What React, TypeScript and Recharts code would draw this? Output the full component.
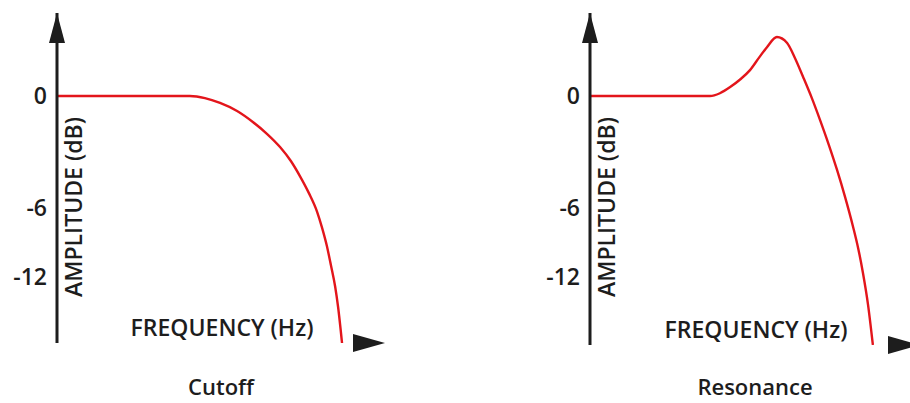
import React from "react";
import { Line, LineChart, XAxis, YAxis } from "recharts";

// values (x: 0-100 along the axis, y: apparent dB units)
const cutoffFreq = [0, 20, 40.5, 45.1, 49.7, 54.9, 59.8, 64, 68, 71.3, 74.1, 76.8, 79.3, 80.8, 82.3, 83.5, 84.8, 85.7, 86.9];
const cutoffAmp = [0, 0, 0, -0.11, -0.37, -0.8, -1.4, -2.02, -2.73, -3.48, -4.3, -5.2, -6.2, -7.05, -8.05, -9.05, -10.2, -11.3, -13.23];

const resonanceFreq = [0, 20, 31.3, 37.5, 40.6, 43.8, 47, 50, 53, 55.3, 58.4, 61.6, 64, 66.6, 69.3, 71.9, 74.6, 77.2, 79.7, 82.2, 83.8, 85.3, 86.9, 88.4];
const resonanceAmp = [0, 0, 0, 0, 0.15, 0.48, 0.9, 1.39, 2.1, 2.62, 3.16, 2.84, 2.05, 1.02, -0.1, -1.29, -2.6, -3.96, -5.4, -7.0, -8.15, -9.48, -11.2, -13.34];

const yTickValues = [0, -6, -9.7];
const yTickLabels = ["0", "-6", "-12"];

const yAxisTitle = "AMPLITUDE (dB)";
const xAxisTitle = "FREQUENCY (Hz)";
const panelTitles = ["Cutoff", "Resonance"];

const toRows = (f: number[], a: number[]) => f.map((v, i) => ({ f: v, a: a[i] }));

const FONT = "'Open Sans', sans-serif";
const INK = "#1d1d1d";
const RED = "#e3151b";

type PanelProps = {
	data: { f: number; a: number }[];
	width: number;
	plotLeft: number;
	plotRight: number;
	plotTop: number;
	plotBottom: number;
	yDomain: [number, number];
};

const Panel: React.FC<PanelProps> = ({ data, width, plotLeft, plotRight, plotTop, plotBottom, yDomain }) => (
	<LineChart
		width={width}
		height={403}
		data={data}
		margin={{ top: plotTop, right: width - plotRight, left: 0, bottom: 403 - plotBottom }}
	>
		<XAxis
			dataKey="f"
			type="number"
			domain={[0, 100]}
			tick={false}
			tickLine={false}
			height={0}
			axisLine={{ stroke: INK, strokeWidth: 3 }}
		/>
		<YAxis
			type="number"
			domain={yDomain}
			ticks={yTickValues}
			interval={0}
			width={plotLeft}
			tickLine={false}
			tickSize={0}
			tickMargin={10}
			tickFormatter={(v: number) => yTickLabels[yTickValues.indexOf(v)] ?? ""}
			tick={{ fill: INK, fontSize: 23, fontWeight: 600, fontFamily: FONT }}
			axisLine={{ stroke: INK, strokeWidth: 3 }}
			allowDataOverflow
		/>
		<Line
			type="monotone"
			dataKey="a"
			stroke={RED}
			strokeWidth={2.4}
			dot={false}
			isAnimationActive={false}
		/>
	</LineChart>
);

type DecorProps = { ax: number; ay: number; right: number; tx: number; ty: number; title: string; titleX: number };

const Decor: React.FC<DecorProps> = ({ ax, ay, right, tx, ty, title, titleX }) => (
	<g fontFamily={FONT} fill={INK} fontWeight={600}>
		<polygon points={`${ax},13 ${ax - 8},43 ${ax + 8},43`} />
		<polygon points={`${right},${ay} ${right - 32},${ay - 9} ${right - 32},${ay + 9}`} />
		<text
			x={ax + 16}
			y={207}
			fontSize={23}
			textAnchor="middle"
			dominantBaseline="central"
			transform={`rotate(-90 ${ax + 16} 207)`}
		>
			{yAxisTitle}
		</text>
		<text x={tx} y={ty} fontSize={23} textAnchor="middle" dominantBaseline="central">
			{xAxisTitle}
		</text>
		<text x={titleX} y={386} fontSize={22} textAnchor="middle" dominantBaseline="central">
			{title}
		</text>
	</g>
);

export default function App() {
	return (
		<div style={{ position: "absolute", left: 0, top: 0, width: 910, height: 403, background: "#fff", overflow: "hidden" }}>
			<div style={{ position: "absolute", left: 0, top: 0 }}>
				<Panel
					data={toRows(cutoffFreq, cutoffAmp)}
					width={450}
					plotLeft={57}
					plotRight={385}
					plotTop={13}
					plotBottom={343}
					yDomain={[-13.23, 4.45]}
				/>
			</div>
			<div style={{ position: "absolute", left: 450, top: 0 }}>
				<Panel
					data={toRows(resonanceFreq, resonanceAmp)}
					width={460}
					plotLeft={140}
					plotRight={460}
					plotTop={13}
					plotBottom={345}
					yDomain={[-13.34, 4.45]}
				/>
			</div>
			<svg width={910} height={403} style={{ position: "absolute", left: 0, top: 0, pointerEvents: "none" }}>
				<Decor ax={57} ay={343} right={385} tx={222} ty={327} title={panelTitles[0]} titleX={221} />
				<Decor ax={590} ay={345} right={920} tx={756} ty={329} title={panelTitles[1]} titleX={755} />
			</svg>
		</div>
	);
}
